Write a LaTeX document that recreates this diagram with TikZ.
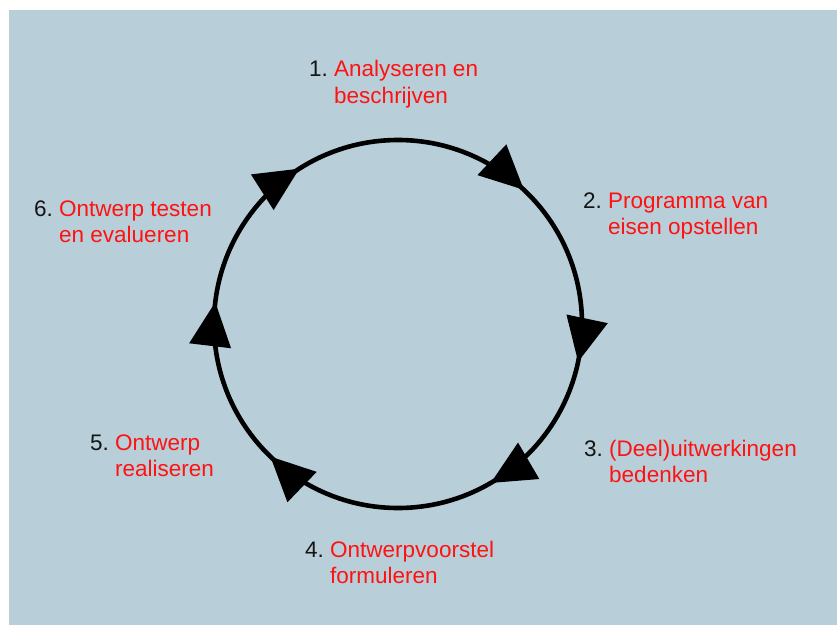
\documentclass[tikz,border=0pt]{standalone}
\usepackage{fontspec}
\setmainfont{Liberation Sans}
\usetikzlibrary{arrows.meta,decorations.markings}
\definecolor{panel}{RGB}{184,206,217}
\definecolor{steptext}{RGB}{255,18,18}
\definecolor{numtext}{RGB}{20,20,20}
\tikzset{cycletip/.tip={Triangle[length=44pt,width=41pt]}}
\begin{document}
\begin{tikzpicture}[x=1pt,y=1pt,
  font=\fontsize{22.5}{26.5}\selectfont,
  steplbl/.style={anchor=base west, inner sep=0pt, text=steptext},
  cycleline/.style={line width=4.6pt, draw=black,
    decoration={markings,
      mark=at position 0.120 with {\arrow{cycletip}},
      mark=at position 0.283 with {\arrow{cycletip}},
      mark=at position 0.416 with {\arrow{cycletip}},
      mark=at position 0.622 with {\arrow{cycletip}},
      mark=at position 0.769 with {\arrow{cycletip}},
      mark=at position 0.910 with {\arrow{cycletip}}},
    postaction=decorate}
]
\useasboundingbox (0,0) rectangle (837,625);
% panel
\fill[panel] (9,0) rectangle (837,615);

% the cycle, drawn clockwise from the top
\coordinate (hub) at (398,301);
\draw[cycleline] (398,485) arc[start angle=90, end angle=-270, radius=184];

% step labels
\newcommand{\stepnum}[1]{\textcolor{numtext}{#1}\ }
\node[steplbl] (s1) at (309,548) {\stepnum{1.}\begin{tabular}[t]{@{}l@{}}Analyseren en\\beschrijven\end{tabular}};
\node[steplbl] (s2) at (583,417) {\stepnum{2.}\begin{tabular}[t]{@{}l@{}}Programma van\\eisen opstellen\end{tabular}};
\node[steplbl] (s3) at (584,169) {\stepnum{3.}\begin{tabular}[t]{@{}l@{}}(Deel)uitwerkingen\\bedenken\end{tabular}};
\node[steplbl] (s4) at (305,68) {\stepnum{4.}\begin{tabular}[t]{@{}l@{}}Ontwerpvoorstel\\formuleren\end{tabular}};
\node[steplbl] (s5) at (90,175) {\stepnum{5.}\begin{tabular}[t]{@{}l@{}}Ontwerp\\realiseren\end{tabular}};
\node[steplbl] (s6) at (34,409) {\stepnum{6.}\begin{tabular}[t]{@{}l@{}}Ontwerp testen\\en evalueren\end{tabular}};
\end{tikzpicture}
\end{document}
